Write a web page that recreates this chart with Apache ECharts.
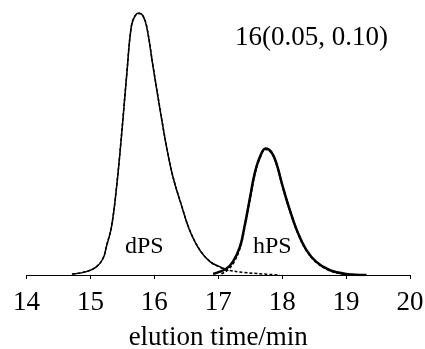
<!DOCTYPE html>
<html>
<head>
<meta charset="utf-8">
<script src="https://cdn.jsdelivr.net/npm/echarts@6/dist/echarts.min.js"></script>
<style>
  html, body { margin: 0; padding: 0; background: #fff; }
  #chart { width: 425px; height: 349px; }
</style>
</head>
<body>
<div id="chart"></div>
<script>
// elution time (min) vs normalised detector response
const dpsMeasured = [
  [14.71, 0.004], [14.94, 0.013], [15.10, 0.032], [15.20, 0.064], [15.25, 0.108],
  [15.33, 0.184], [15.41, 0.337], [15.49, 0.541], [15.57, 0.77], [15.64, 0.948],
  [15.70, 0.99], [15.76, 1.0], [15.82, 0.99], [15.88, 0.948], [15.98, 0.795],
  [16.09, 0.63], [16.19, 0.49], [16.29, 0.375], [16.43, 0.261], [16.55, 0.172],
  [16.71, 0.095], [16.87, 0.051], [17.02, 0.032], [17.12, 0.022]
];
const dpsFit = [
  [14.72, 0.004], [14.95, 0.014], [15.10, 0.033], [15.20, 0.066], [15.25, 0.11],
  [15.33, 0.186], [15.41, 0.34], [15.49, 0.545], [15.57, 0.772], [15.64, 0.95],
  [15.70, 0.99], [15.76, 0.998], [15.82, 0.99], [15.88, 0.95], [15.98, 0.798],
  [16.09, 0.633], [16.19, 0.492], [16.29, 0.377], [16.43, 0.263], [16.55, 0.174],
  [16.71, 0.097], [16.87, 0.052], [17.02, 0.03], [17.15, 0.019], [17.40, 0.01],
  [17.70, 0.004], [17.96, 0.0]
];
const hpsMeasured = [
  [16.92, 0.004], [17.13, 0.025], [17.23, 0.051], [17.34, 0.108], [17.41, 0.184],
  [17.49, 0.286], [17.57, 0.388], [17.65, 0.45], [17.74, 0.483], [17.83, 0.47],
  [17.91, 0.426], [18.01, 0.337], [18.12, 0.248], [18.25, 0.159], [18.38, 0.095],
  [18.53, 0.051], [18.74, 0.019], [19.00, 0.004], [19.32, 0.0]
];
const hpsFit = [
  [17.05, 0.004], [17.15, 0.02], [17.24, 0.048], [17.34, 0.104], [17.41, 0.18],
  [17.49, 0.282], [17.57, 0.384], [17.65, 0.447], [17.74, 0.48], [17.83, 0.468],
  [17.91, 0.424], [18.01, 0.335], [18.12, 0.246], [18.25, 0.158], [18.38, 0.094],
  [18.53, 0.05], [18.74, 0.018], [19.00, 0.003], [19.25, 0.0]
];
const xTicks = [14, 15, 16, 17, 18, 19, 20];

const serif = '"Liberation Serif", "DejaVu Serif", serif';

const chart = echarts.init(document.getElementById('chart'));

const lineSeries = (data, width, dashed) => ({
  type: 'line',
  data: data,
  smooth: 0.4,
  showSymbol: false,
  symbol: 'none',
  silent: true,
  lineStyle: {
    color: '#000',
    width: width,
    type: dashed ? [3, 2] : 'solid'
  }
});

chart.setOption({
  animation: false,
  backgroundColor: '#fff',
  grid: { left: 26.5, right: 15, top: 0, bottom: 74, outerBoundsMode: 'none', containLabel: false },
  xAxis: {
    type: 'value',
    min: xTicks[0],
    max: xTicks[xTicks.length - 1],
    interval: 1,
    name: 'elution time/min',
    nameLocation: 'middle',
    nameGap: 49,
    nameTextStyle: { fontFamily: serif, fontSize: 27, color: '#000' },
    axisLine: { show: true, lineStyle: { color: '#000', width: 1 } },
    axisTick: { show: true, inside: false, length: 4, lineStyle: { color: '#000' } },
    axisLabel: { fontFamily: serif, fontSize: 27, color: '#000', margin: 14 },
    splitLine: { show: false }
  },
  yAxis: {
    type: 'value',
    min: 0,
    max: 1.05,
    show: false
  },
  series: [
    lineSeries(dpsMeasured, 1.5, false),
    lineSeries(dpsFit, 1.5, true),
    lineSeries(hpsMeasured, 2.5, false),
    lineSeries(hpsFit, 2, true)
  ],
  graphic: [
    { type: 'text', left: 235, top: 24,
      style: { text: '16(0.05, 0.10)', font: '27px ' + serif, fill: '#000' } },
    { type: 'text', left: 125, top: 235,
      style: { text: 'dPS', font: '24px ' + serif, fill: '#000' } },
    { type: 'text', left: 253, top: 235,
      style: { text: 'hPS', font: '24px ' + serif, fill: '#000' } }
  ]
});

window.addEventListener('resize', () => {
  chart && chart.resize();
});
</script>
</body>
</html>
